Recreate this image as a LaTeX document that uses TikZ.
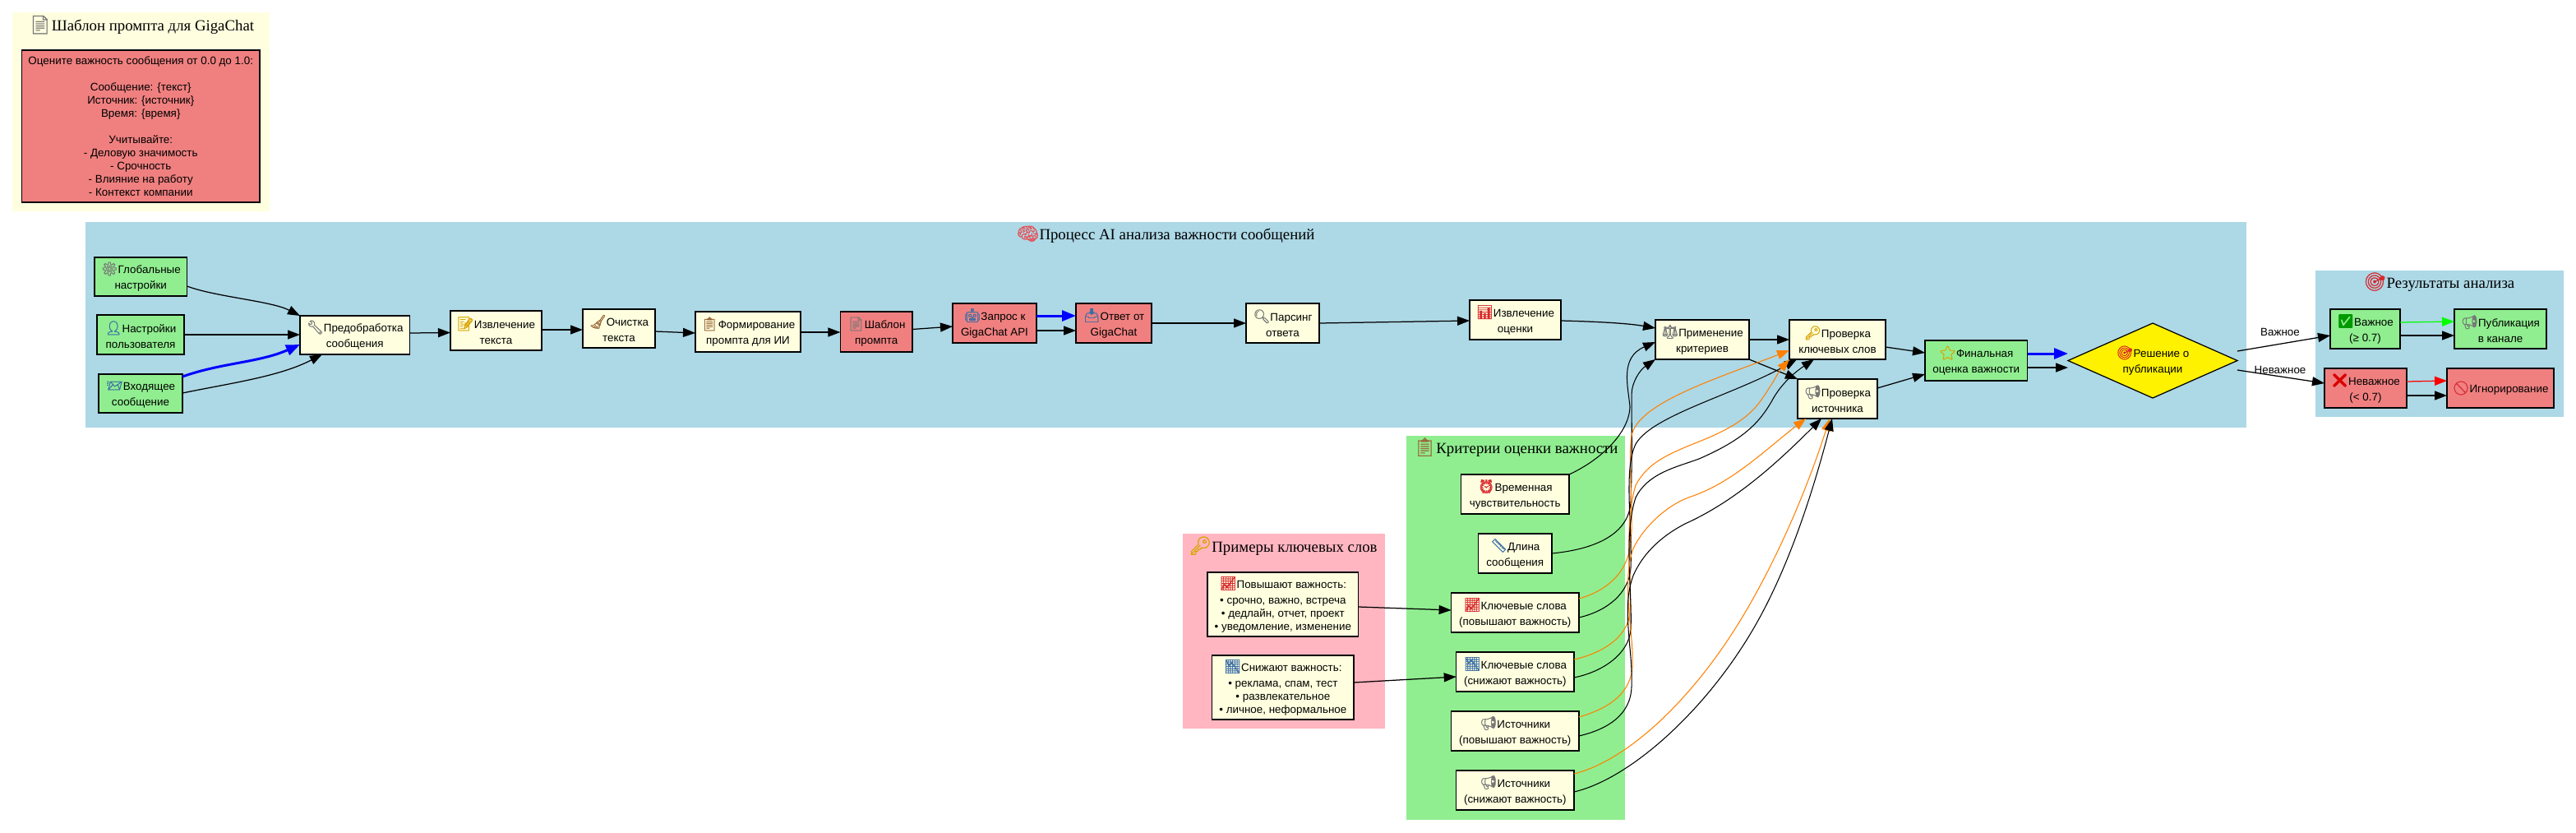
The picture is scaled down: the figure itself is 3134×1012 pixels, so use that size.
\documentclass[tikz,border=0pt]{standalone}
\usepackage{fontspec}
\setmainfont{Liberation Sans}
\newfontfamily\titlefont{Liberation Serif}
\newfontfamily\emojifont[FakeBold=1.2]{Noto Emoji}
\usetikzlibrary{arrows.meta,shapes.geometric}
\definecolor{lyellow}{HTML}{FFFFE0}
\definecolor{lblue}{HTML}{ADD8E6}
\definecolor{lcoral}{HTML}{F08080}
\definecolor{lgreen}{HTML}{90EE90}
\definecolor{lpink}{HTML}{FFB6C1}
\definecolor{emgray}{HTML}{777777}
\definecolor{embrown}{HTML}{9A6A3A}
\definecolor{emgold}{HTML}{D9A300}
\definecolor{emred}{HTML}{D8282C}
\definecolor{emblue}{HTML}{3A6EA5}
\newcommand\emo[2]{\rule{0pt}{14pt}{\color{#1}\emojifont\fontsize{16.5}{16.5}\selectfont\smash{#2}}}
\newcommand\emot[2]{{\color{#1}\emojifont\fontsize{22}{22}\selectfont\smash{#2}}}
\newcommand\bxnode[7]{%
  \pgfmathsetmacro\bxcx{(#3+#5)/2}%
  \pgfmathsetmacro\bxcy{(#4+#6)/2}%
  \pgfmathsetmacro\bxw{#5-#3}%
  \pgfmathsetmacro\bxh{#6-#4}%
  \node[#1,minimum width=\bxw pt,minimum height=\bxh pt] (#2) at (\bxcx,\bxcy) {#7};}
\tikzset{
  basebox/.style={draw=black,line width=1.25pt,inner sep=0pt,outer sep=0pt,align=center,
    font=\fontsize{13.4}{16}\selectfont},
  ybox/.style={basebox,fill=lyellow},
  gbox/.style={basebox,fill=lgreen},
  rbox/.style={basebox,fill=lcoral},
  clusterbox/.style={inner sep=0pt,outer sep=0pt},
  ctitle/.style={inner sep=0pt,font=\titlefont\fontsize{18.8}{22}\selectfont},
  elabel/.style={inner sep=0pt,font=\fontsize{13.4}{16}\selectfont},
  link/.style={-{Triangle[length=15pt,width=11pt]},line width=1.25pt,black},
  curve/.style={-{Triangle[length=15pt,width=11pt]},line width=1.05pt,black},
  ocurve/.style={-{Triangle[length=15pt,width=11pt]},line width=1.05pt,orange},
  heavy/.style={-{Triangle[length=17pt,width=13pt]},line width=3pt,blue},
  thinc/.style={-{Triangle[length=15pt,width=11pt]},line width=1.25pt},
}
\begin{document}
\begin{tikzpicture}[x=1pt,y=-1pt]
\path[use as bounding box,fill=white] (0,0) rectangle (3134,1012);
% clusters
\bxnode{clusterbox,fill=lyellow}{cTpl}{15.3}{15}{327.5}{257}{}
\bxnode{clusterbox,fill=lblue}{cMain}{104}{270}{2733}{520}{}
\bxnode{clusterbox,fill=lblue}{cRes}{2817}{329}{3118.5}{507}{}
\bxnode{clusterbox,fill=lgreen}{cCrit}{1711}{530}{1977}{997}{}
\bxnode{clusterbox,fill=lpink}{cKey}{1439}{649}{1684.5}{886}{}
% cluster titles
\node[ctitle] (tTpl) at (172,33) {\emot{emgray}{📄}Шаблон промпта для GigaChat};
\node[ctitle] (tMain) at (1418,287) {\emot{emred!70!lpink}{🧠}Процесс AI анализа важности сообщений};
\node[ctitle] (tRes) at (2967.5,346) {\emot{emred}{🎯}Результаты анализа};
\node[ctitle] (tCrit) at (1844,547) {\emot{embrown}{📋}Критерии оценки важности};
\node[ctitle] (tKey) at (1561,667) {\emot{emgold}{🔑}Примеры ключевых слов};
% template
\bxnode{rbox}{tpl}{26.5}{61}{316}{246}{Оцените важность сообщения от 0.0 до 1.0:\\[16pt]Сообщение: \{текст\}\\Источник: \{источник\}\\Время: \{время\}\\[16pt]Учитывайте:\\- Деловую значимость\\- Срочность\\- Влияние на работу\\- Контекст компании}
% main row
\bxnode{gbox}{glob}{115}{313}{227.5}{360}{\emo{emgray}{⚙}Глобальные\\[3pt]настройки}
\bxnode{gbox}{usr}{118}{383}{224}{431}{\emo{emblue}{👤}Настройки\\[3pt]пользователя}
\bxnode{gbox}{inc}{120}{455}{222}{502}{\emo{emblue}{📨}Входящее\\[3pt]сообщение}
\bxnode{ybox}{pre}{365}{384}{498.5}{431}{\emo{emgray}{🔧}Предобработка\\[3pt]сообщения}
\bxnode{ybox}{ext}{548}{378}{659}{426}{\emo{emgold}{📝}Извлечение\\[3pt]текста}
\bxnode{ybox}{cln}{709}{376}{797}{423}{\emo{embrown}{🧹}Очистка\\[3pt]текста}
\bxnode{ybox}{frm}{846}{379}{974}{428}{\emo{embrown}{📋}Формирование\\[3pt]промпта для ИИ}
\bxnode{rbox}{shb}{1022.4}{379}{1110}{428}{\emo{emgray}{📄}Шаблон\\[3pt]промпта}
\bxnode{rbox}{req}{1159}{369}{1261}{417}{\emo{emblue}{🤖}Запрос к\\[3pt]GigaChat API}
\bxnode{rbox}{rsp}{1309}{369}{1401}{417}{\emo{emblue}{📥}Ответ от\\[3pt]GigaChat}
\bxnode{ybox}{prs}{1516}{369}{1605}{417}{\emo{emgray}{🔍}Парсинг\\[3pt]ответа}
\bxnode{ybox}{scr}{1788}{365}{1899}{413}{\emo{emred}{📊}Извлечение\\[3pt]оценки}
\bxnode{ybox}{app}{2014}{389}{2128}{437}{\emo{emgray}{⚖}Применение\\[3pt]критериев}
\bxnode{ybox}{pki}{2177}{389}{2294}{437}{\emo{emgold}{🔑}Проверка\\[3pt]ключевых слов}
\bxnode{ybox}{psr}{2187}{461}{2284}{509}{\emo{emgray}{📢}Проверка\\[3pt]источника}
\bxnode{gbox}{fin}{2342}{414}{2466.5}{463}{\emo{emgold}{⭐}Финальная\\[3pt]оценка важности}
\node[basebox,fill=yellow,shape=diamond,shape aspect=2.264,minimum width=206pt,minimum height=91pt] (dec) at (2619,438.5) {\emo{emred}{🎯}Решение о\\[3pt]публикации};
% results
\bxnode{gbox}{imp}{2835}{376}{2920}{424}{\emo{green!60!black}{✅}Важное\\[3pt](≥ 0.7)}
\bxnode{gbox}{pub}{2986}{376}{3098}{424}{\emo{emgray}{📢}Публикация\\[3pt]в канале}
\bxnode{rbox}{nim}{2828}{448}{2928}{496}{\emo{red!85!black}{❌}Неважное\\[3pt](< 0.7)}
\bxnode{rbox}{ign}{2977}{448}{3107}{496}{\emo{emred}{🚫}Игнорирование}
% criteria
\bxnode{ybox}{tim}{1777.4}{577}{1909}{625}{\emo{emred}{⏰}Временная\\[3pt]чувствительность}
\bxnode{ybox}{len}{1798.5}{649}{1888}{697}{\emo{emblue}{📏}Длина\\[3pt]сообщения}
\bxnode{ybox}{kup}{1765.6}{721}{1921}{769}{\emo{emred}{📈}Ключевые слова\\[3pt](повышают важность)}
\bxnode{ybox}{kdn}{1771.7}{793}{1915}{841}{\emo{emblue}{📉}Ключевые слова\\[3pt](снижают важность)}
\bxnode{ybox}{sup}{1765.6}{865}{1921}{913}{\emo{emgray}{📢}Источники\\[3pt](повышают важность)}
\bxnode{ybox}{sdn}{1771.7}{937}{1915}{985}{\emo{emgray}{📢}Источники\\[3pt](снижают важность)}
% keywords
\bxnode{ybox}{xup}{1469}{696}{1652.7}{774}{\emo{emred}{📈}Повышают важность:\\[3pt]• срочно, важно, встреча\\• дедлайн, отчет, проект\\• уведомление, изменение}
\bxnode{ybox}{xdn}{1474.7}{797}{1647}{875}{\emo{emblue}{📉}Снижают важность:\\[3pt]• реклама, спам, тест\\• развлекательное\\• личное, неформальное}
% edge labels
\node[elabel] (lImp) at (2774,404) {Важное};
\node[elabel] (lNim) at (2774,450) {Неважное};
% main connectors
\draw[link] (glob.east |- 0,348) .. controls (262,361) and (330,366) .. (pre.north west);
\draw[link] (usr.east |- 0,407) -- (pre.west |- 0,407);
\draw[heavy] (inc.east |- 0,458) .. controls (270,441) and (315,441) .. (pre.west |- 0,419);
\draw[link] (inc.east |- 0,478) .. controls (280,466) and (340,458) .. (pre.south -| 392,0);
\draw[link] (pre.east |- 0,405) -- (ext.west |- 0,404.5);
\draw[link] (ext.east |- 0,401) -- (cln.west |- 0,401);
\draw[link] (cln.east |- 0,403) -- (frm.west |- 0,405);
\draw[link] (frm.east |- 0,404) -- (shb.west |- 0,404);
\draw[link] (shb.east |- 0,400.5) -- (req.west |- 0,397);
\draw[heavy] (req.east |- 0,384) -- (rsp.west |- 0,384);
\draw[link] (req.east |- 0,402) -- (rsp.west |- 0,402);
\draw[link] (rsp.east |- 0,393) -- (prs.west |- 0,393);
\draw[link] (prs.east |- 0,393) -- (scr.west |- 0,390);
\draw[link] (scr.east |- 0,390) .. controls (1940,391) and (1980,393) .. (app.west |- 0,399);
\draw[link] (app.east |- 0,413) -- (pki.west |- 0,413);
\draw[link] (app.east |- 0,437) -- (psr.north -| 2187,0);
\draw[link] (pki.east |- 0,422) -- (fin.west |- 0,429);
\draw[link] (psr.east |- 0,472) -- (fin.west |- 0,455);
\draw[heavy] (fin.east |- 0,430) -- (dec.west |- 2535,430);
\draw[link] (fin.east |- 0,447) -- (dec.west |- 2535,447);
\draw[link] (dec.east |- 2698,427) -- (imp.west |- 0,408);
\draw[link] (dec.east |- 2698,450) -- (nim.west |- 0,466);
\draw[thinc,color=green] (imp.east |- 0,392) -- (pub.west |- 0,391);
\draw[link] (imp.east |- 0,408) -- (pub.west |- 0,408);
\draw[thinc,color=red] (nim.east |- 0,464) -- (ign.west |- 0,463);
\draw[link] (nim.east |- 0,481) -- (ign.west |- 0,481);
\draw[link] (xup.east |- 0,738) -- (kup.west |- 0,742);
\draw[link] (xdn.east |- 0,830) -- (kdn.west |- 0,823);
% criteria connectors
\draw[curve] (tim.north east) .. controls (1950,558) and (1982,525) .. (1983,495) .. controls (1981,470) and (1970,435) .. (app.west |- 0,416);
\draw[curve] (len.east |- 0,673) .. controls (1940,668) and (1982,650) .. (1984,610) .. controls (1986,560) and (1985,500) .. (1985,480) .. controls (1985,465) and (1995,450) .. (app.south west);
\draw[ocurve] (kup.east |- 0,728) .. controls (1950,720) and (1980,700) .. (1984,660) .. controls (1988,620) and (1980,560) .. (1985,530) .. controls (1992,490) and (2090,460) .. (pki.west |- 0,426);
\draw[curve] (kup.east |- 0,751) .. controls (1955,743) and (1982,722) .. (1984,690) .. controls (1986,640) and (1975,570) .. (1990,540) .. controls (2010,505) and (2110,480) .. (pki.south -| 2186,0);
\draw[ocurve] (kdn.east |- 0,802) .. controls (1950,794) and (1980,775) .. (1983,745) .. controls (1986,700) and (1975,640) .. (1990,590) .. controls (2005,562) and (2030,552) .. (2067,537) .. controls (2100,524) and (2125,510) .. (2140,490) .. controls (2155,470) and (2165,450) .. (pki.south west);
\draw[curve] (kdn.east |- 0,824) .. controls (1950,817) and (1982,795) .. (1984,765) .. controls (1986,720) and (1975,650) .. (1990,605) .. controls (2005,575) and (2040,568) .. (2067,558) .. controls (2120,535) and (2140,515) .. (2156,487) .. controls (2165,470) and (2180,455) .. (pki.south -| 2207,0);
\draw[ocurve] (sup.east |- 0,872) .. controls (1955,862) and (1984,845) .. (1986,810) .. controls (1988,770) and (1972,710) .. (1987,667) .. controls (2000,640) and (2030,612) .. (2060,603) .. controls (2110,585) and (2150,545) .. (psr.south -| 2197,0);
\draw[curve] (sup.east |- 0,895) .. controls (1955,887) and (1984,870) .. (1985,835) .. controls (1987,790) and (1972,740) .. (1987,700) .. controls (2000,670) and (2025,650) .. (2050,637) .. controls (2110,610) and (2160,565) .. (psr.south -| 2216,0);
\draw[ocurve] (sdn.east |- 0,941) .. controls (1980,925) and (2060,850) .. (2120,750) .. controls (2165,675) and (2200,590) .. (psr.south -| 2226,0);
\draw[curve] (sdn.east |- 0,963) .. controls (1980,948) and (2070,870) .. (2130,770) .. controls (2175,695) and (2205,600) .. (psr.south -| 2229,0);
\end{tikzpicture}
\end{document}
